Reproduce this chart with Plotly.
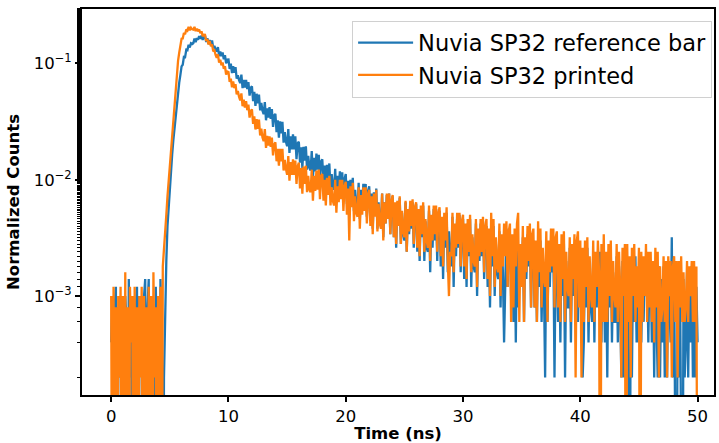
import plotly.graph_objects as go

# ---------------- data (counts per 0.1 ns bin) ----------------
TIME_STEP_NS = 0.1
COUNT_NORM = 2e-4          # normalized value of a single count
ZERO_FLOOR = 1e-6          # where empty bins are drawn (below the axis, like matplotlib clipping)

SERIES_NAMES = ["Nuvia SP32 reference bar", "Nuvia SP32 printed"]

REF_BAR_COUNTS = [
    2, 5, 0, 4, 6, 0, 4, 1, 5, 0,
    4, 0, 5, 3, 0, 7, 1, 4, 0, 5,
    0, 4, 6, 0, 5, 2, 4, 0, 5, 7,
    0, 4, 7, 0, 5, 1, 4, 0, 6, 2,
    5, 0, 7, 3, 0, 1, 4, 10, 20, 30,
    43, 61, 83, 110, 142, 182, 228, 282, 342, 398,
    471, 486, 569, 566, 654, 649, 722, 684, 744, 733,
    745, 815, 760, 824, 798, 855, 811, 865, 795, 846,
    859, 764, 823, 731, 794, 730, 786, 677, 705, 658,
    631, 690, 576, 632, 575, 620, 542, 589, 500, 539,
    540, 448, 498, 412, 472, 414, 464, 370, 395, 359,
    339, 400, 306, 361, 310, 360, 301, 345, 264, 309,
    317, 237, 285, 215, 274, 227, 270, 197, 228, 196,
    183, 232, 162, 205, 171, 210, 167, 202, 142, 179,
    184, 128, 162, 115, 159, 125, 157, 104, 128, 106,
    97, 136, 85, 118, 91, 123, 91, 118, 75, 103,
    106, 70, 95, 63, 96, 73, 97, 61, 80, 64,
    60, 88, 52, 77, 59, 84, 61, 82, 50, 72,
    75, 48, 66, 44, 67, 50, 69, 42, 56, 44,
    41, 62, 35, 54, 41, 59, 42, 58, 34, 51,
    56, 31, 49, 28, 50, 35, 52, 27, 41, 30,
    28, 47, 23, 41, 29, 46, 30, 46, 24, 40,
    44, 22, 38, 19, 39, 25, 42, 19, 32, 22,
    20, 38, 16, 32, 21, 37, 23, 38, 17, 32,
    36, 16, 31, 13, 32, 20, 35, 14, 26, 17,
    15, 32, 12, 27, 17, 32, 19, 32, 13, 27,
    31, 12, 26, 10, 28, 16, 30, 10, 22, 13,
    12, 27, 8, 23, 13, 28, 15, 28, 10, 24,
    27, 9, 22, 7, 24, 13, 26, 8, 18, 11,
    9, 24, 6, 20, 11, 24, 13, 25, 8, 20,
    23, 7, 19, 6, 21, 11, 23, 6, 16, 9,
    8, 21, 5, 17, 10, 21, 11, 22, 7, 18,
    20, 6, 16, 4, 18, 9, 20, 5, 14, 8,
    7, 18, 4, 15, 8, 2, 10, 19, 6, 16,
    17, 5, 14, 3, 16, 2, 17, 4, 12, 7,
    6, 16, 3, 14, 7, 17, 9, 17, 4, 14,
    15, 4, 12, 3, 14, 6, 15, 3, 11, 6,
    1, 14, 3, 12, 6, 15, 8, 14, 1, 12,
    13, 3, 11, 2, 13, 5, 14, 1, 10, 4,
    4, 13, 2, 11, 5, 13, 7, 13, 3, 11,
    12, 3, 1, 2, 12, 4, 13, 2, 9, 4,
    3, 12, 2, 10, 4, 12, 6, 12, 2, 10,
    11, 2, 9, 1, 11, 4, 12, 2, 8, 3,
    3, 11, 2, 9, 4, 1, 10, 1, 11, 1,
    10, 1, 0, 8, 1, 10, 3, 11, 2, 8,
    2, 10, 2, 8, 3, 10, 5, 10, 2, 9,
    9, 2, 8, 1, 10, 3, 1, 9, 1, 7,
    2, 9, 1, 8, 1, 9, 4, 2, 16, 1,
    9, 1, 0, 8, 1, 9, 2, 0, 7, 1,
    2, 8, 1, 7, 2, 9, 1, 8, 1, 6,
    2,
]

PRINTED_COUNTS = [
    5, 0, 6, 0, 4, 0, 5, 1, 6, 0,
    5, 0, 8, 0, 4, 0, 6, 2, 5, 0,
    6, 0, 4, 0, 5, 1, 6, 0, 5, 0,
    4, 0, 6, 0, 5, 0, 8, 1, 4, 0,
    5, 0, 6, 0, 9, 12, 17, 25, 36, 49,
    66, 90, 122, 175, 243, 330, 428, 525, 617, 705,
    815, 818, 911, 888, 978, 956, 1028, 962, 1011, 980,
    974, 1028, 947, 991, 942, 977, 911, 942, 855, 881,
    879, 778, 808, 727, 777, 700, 727, 633, 647, 590,
    557, 597, 507, 536, 482, 510, 450, 472, 401, 425,
    421, 346, 370, 311, 350, 306, 331, 271, 289, 258,
    240, 276, 214, 244, 208, 237, 198, 221, 171, 195,
    201, 151, 175, 135, 166, 137, 164, 120, 137, 115,
    107, 136, 94, 119, 98, 118, 96, 115, 81, 100,
    105, 72, 92, 66, 92, 72, 92, 60, 74, 62,
    55, 80, 49, 71, 55, 75, 55, 73, 46, 65,
    70, 42, 63, 38, 65, 46, 66, 39, 54, 41,
    39, 61, 33, 54, 40, 60, 41, 61, 34, 54,
    56, 33, 50, 30, 52, 37, 54, 30, 43, 33,
    30, 50, 26, 44, 32, 50, 34, 50, 27, 44,
    48, 25, 42, 15, 44, 29, 47, 22, 36, 26,
    24, 43, 19, 37, 25, 43, 27, 43, 21, 38,
    41, 20, 36, 17, 38, 24, 41, 18, 31, 21,
    19, 38, 15, 32, 21, 38, 23, 38, 17, 33,
    37, 16, 32, 14, 33, 20, 36, 14, 27, 18,
    16, 33, 12, 28, 18, 33, 20, 34, 14, 29,
    32, 13, 28, 11, 30, 17, 32, 12, 23, 15,
    13, 30, 10, 25, 15, 30, 17, 30, 12, 26,
    29, 11, 24, 9, 26, 15, 29, 10, 5, 12,
    11, 26, 8, 21, 13, 26, 14, 26, 9, 22,
    25, 9, 21, 7, 23, 12, 25, 8, 17, 10,
    9, 23, 6, 19, 11, 23, 12, 24, 8, 20,
    23, 7, 19, 5, 26, 11, 23, 6, 16, 9,
    8, 21, 5, 17, 9, 21, 11, 22, 6, 18,
    21, 3, 17, 4, 19, 9, 21, 26, 3, 14,
    6, 20, 3, 16, 8, 20, 10, 21, 4, 17,
    19, 4, 15, 3, 22, 8, 19, 4, 13, 7,
    6, 18, 3, 15, 8, 19, 9, 19, 4, 16,
    18, 4, 14, 3, 17, 7, 18, 3, 12, 6,
    5, 16, 3, 14, 7, 17, 1, 15, 18, 4,
    15, 1, 13, 3, 15, 6, 16, 3, 11, 5,
    4, 15, 3, 12, 6, 15, 8, 0, 14, 3,
    17, 3, 12, 3, 14, 5, 15, 3, 10, 5,
    4, 14, 3, 12, 6, 1, 13, 5, 14, 0,
    14, 3, 11, 1, 13, 5, 14, 3, 9, 4,
    13, 0, 12, 3, 11, 5, 14, 3, 12, 4,
    12, 3, 10, 2, 13, 4, 12, 1, 9, 3,
    4, 11, 3, 10, 1, 11, 5, 10, 1, 9,
    11, 3, 10, 1, 10, 4, 11, 3, 8, 3,
    4, 10, 3, 9, 5, 10, 3, 10, 3, 9,
    0,
]

X_TICKS = [0, 10, 20, 30, 40, 50]
Y_TICK_VALUES = [1e-3, 1e-2, 1e-1]
Y_TICK_LABELS = ["10<sup>\u22123</sup>", "10<sup>\u22122</sup>", "10<sup>\u22121</sup>"]
COLORS = ["#1f77b4", "#ff7f0e"]

# ---------------- figure ----------------
time_ns = [round(i * TIME_STEP_NS, 1) for i in range(len(REF_BAR_COUNTS))]


def normalize(counts):
    return [c * COUNT_NORM if c > 0 else ZERO_FLOOR for c in counts]


fig = go.Figure()
for name, counts, color in zip(SERIES_NAMES, [REF_BAR_COUNTS, PRINTED_COUNTS], COLORS):
    fig.add_trace(go.Scatter(
        x=time_ns, y=normalize(counts), mode="lines", name=name,
        line=dict(color=color, width=2.3),
    ))

FONT = "DejaVu Sans"
axis_common = dict(
    showline=True, linecolor="black", linewidth=2, mirror=True,
    ticks="outside", ticklen=5, tickwidth=1.6, tickcolor="black",
    showgrid=False, zeroline=False,
    tickfont=dict(family=FONT, size=16.5, color="black"),
)

fig.update_layout(
    width=719, height=443,
    margin=dict(l=82, r=3, t=9, b=48),
    paper_bgcolor="white", plot_bgcolor="white",
    font=dict(family=FONT, color="black"),
    xaxis=dict(
        range=[-2.49, 51.4], tickvals=X_TICKS,
        title=dict(text="<b>Time (ns)</b>", font=dict(family=FONT, size=16.5), standoff=2),
        **axis_common,
    ),
    yaxis=dict(
        type="log", range=[-3.85, -0.533],
        tickvals=Y_TICK_VALUES, ticktext=Y_TICK_LABELS,
        minor=dict(ticks="outside", ticklen=3, tickwidth=1, tickcolor="black", showgrid=False),
        title=dict(text="<b>Normalized Counts</b>", font=dict(family=FONT, size=16.5), standoff=10),
        **axis_common,
    ),
    legend=dict(
        x=0.997, y=0.97, xanchor="right", yanchor="top",
        bgcolor="rgba(255,255,255,0.85)", bordercolor="#d0d0d0", borderwidth=1,
        font=dict(family=FONT, size=22.5, color="black"),
        itemwidth=55,
    ),
    showlegend=True,
)

fig.write_html(
    "out.html",
    config={"displayModeBar": False},
    post_script="document.body.style.margin='0';",
)
